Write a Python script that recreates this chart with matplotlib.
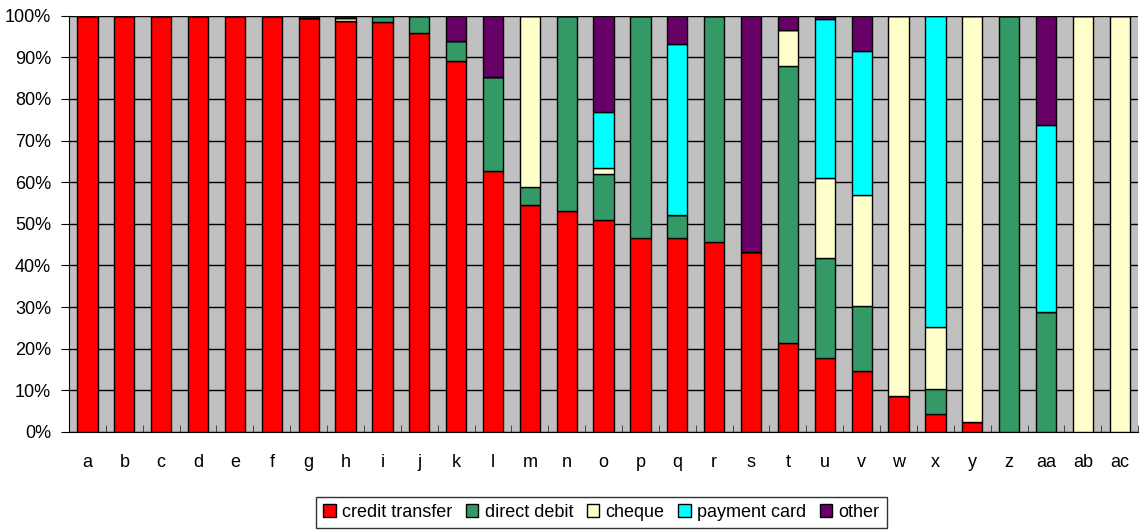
"""Stacked 100% bar chart of payment instrument shares"""
import numpy as np
import matplotlib
matplotlib.use("Agg")
import matplotlib.pyplot as plt
from matplotlib.ticker import FixedLocator, PercentFormatter

plt.rcParams['font.family'] = ['Liberation Sans', 'DejaVu Sans']

CATEGORIES = ["a", "b", "c", "d", "e", "f", "g", "h", "i", "j", "k", "l", "m", "n", "o",
              "p", "q", "r", "s", "t", "u", "v", "w", "x", "y", "z", "aa", "ab", "ac"]

credit_transfer = [100, 100, 100, 100, 100, 100, 99.4, 98.7, 98.4, 95.8, 89.0, 62.6, 54.6, 53.1, 50.9,
                   46.6, 46.6, 45.6, 43.3, 21.4, 17.7, 14.7, 8.6, 4.4, 2.3, 0, 0, 0, 0]
direct_debit = [0, 0, 0, 0, 0, 0, 0, 0, 1.6, 4.2, 4.8, 22.6, 4.3, 46.9, 11.0,
                53.4, 5.4, 54.4, 0, 66.5, 24.1, 15.5, 0, 5.9, 0, 100, 28.7, 0, 0]
cheque = [0, 0, 0, 0, 0, 0, 0, 0.8, 0, 0, 0, 0, 41.1, 0, 1.4,
          0, 0, 0, 0, 8.7, 19.3, 26.8, 91.4, 14.9, 97.7, 0, 0, 100, 100]
payment_card = [0, 0, 0, 0, 0, 0, 0, 0, 0, 0, 0, 0, 0, 0, 13.6,
                0, 41.1, 0, 0, 0, 38.1, 34.6, 0, 74.8, 0, 0, 45.1, 0, 0]
other = [0, 0, 0, 0, 0, 0, 0.6, 0.5, 0, 0, 6.2, 14.8, 0, 0, 23.1,
         0, 6.9, 0, 56.7, 3.4, 0.8, 8.4, 0, 0, 0, 0, 26.2, 0, 0]

SERIES = [("credit transfer", credit_transfer, "#FF0000"),
          ("direct debit", direct_debit, "#339966"),
          ("cheque", cheque, "#FFFFCC"),
          ("payment card", payment_card, "#00FFFF"),
          ("other", other, "#660066")]

fig = plt.figure(figsize=(11.41, 5.30), dpi=100)
ax = fig.add_axes([0.0605, 0.185, 0.937, 0.7855])
ax.set_facecolor("#C0C0C0")

x = np.arange(len(CATEGORIES))
bottom = np.zeros(len(CATEGORIES))
for name, vals, color in SERIES:
    vals = np.array(vals, dtype=float)
    ax.bar(x, vals, width=0.55, bottom=bottom, color=color, edgecolor="black",
           linewidth=1.0, label=name, zorder=3)
    bottom += vals

ax.set_xlim(-0.5, len(CATEGORIES) - 0.5)
ax.set_ylim(0, 100)
ax.set_yticks(np.arange(0, 101, 10))
ax.yaxis.set_major_formatter(PercentFormatter(decimals=0))
ax.yaxis.grid(True, color="black", linewidth=1.0, zorder=1)
ax.set_axisbelow(True)

ax.set_xticks(x)
ax.set_xticklabels(CATEGORIES)
ax.xaxis.set_minor_locator(FixedLocator(np.arange(-0.5, len(CATEGORIES), 1)))
ax.tick_params(axis="x", which="major", length=0, pad=16, labelsize=13)
ax.tick_params(axis="x", which="minor", direction="in", length=5, color="#333333")
ax.tick_params(axis="y", which="major", direction="out", length=6, labelsize=13, pad=7)

for side in ["top", "right"]:
    ax.spines[side].set_visible(False)
ax.spines["left"].set_color("black")
ax.spines["bottom"].set_color("black")

leg = fig.legend(loc="lower center", bbox_to_anchor=(0.527, 0.0), ncol=5, frameon=True,
                 fancybox=False, edgecolor="black", fontsize=13, handlelength=0.7,
                 handleheight=0.7, handletextpad=0.35, columnspacing=0.75,
                 borderpad=0.4, borderaxespad=0.1)
leg.get_frame().set_linewidth(1.0)

fig.savefig("out.png", dpi=100)
